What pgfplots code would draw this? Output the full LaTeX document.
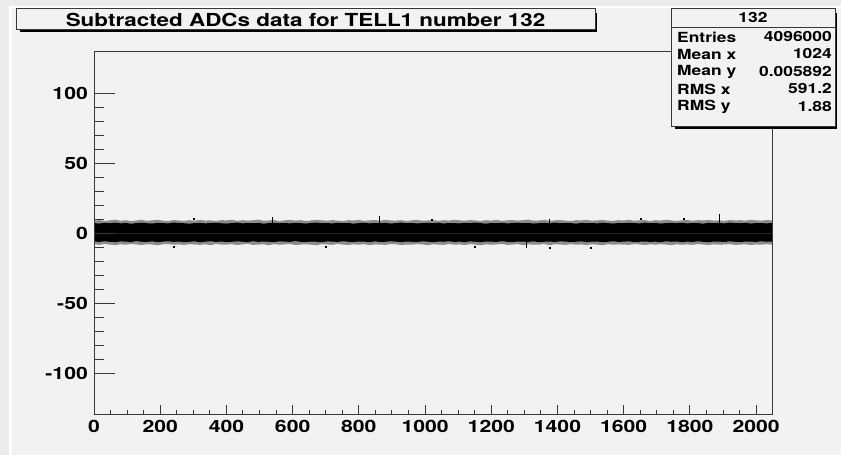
\documentclass[border=0pt]{standalone}
\usepackage{fontspec}
\setmainfont{TeX Gyre Heros}
\usepackage{graphicx}
\usepackage{pgfplots}
\pgfplotsset{compat=1.18}
\usepackage{pgfplotstable}
\definecolor{outerbg}{HTML}{EBEBEB}
\definecolor{canvas}{HTML}{F2F2F2}
\definecolor{frame}{HTML}{383838}
\newcommand{\sx}[1]{\scalebox{1.25}[1]{#1}}

\pgfplotstableread{
x ot ct cb ob
0 9.2 7.4 -5.7 -7.6
16 9.6 7.1 -6.0 -8.1
32 8.9 7.6 -5.5 -7.4
48 9.4 7.3 -5.9 -7.9
64 9.9 7.8 -6.2 -8.3
80 9.1 7.2 -5.6 -7.7
96 9.5 7.5 -5.8 -8.0
112 8.8 7.0 -6.1 -7.5
128 9.3 7.4 -5.4 -7.8
144 9.7 7.7 -5.9 -8.2
160 9.0 7.3 -6.0 -7.6
176 9.4 7.1 -5.6 -7.9
192 9.8 7.6 -6.2 -8.4
208 9.2 7.4 -5.8 -7.7
224 8.9 7.2 -5.5 -7.5
240 9.6 7.8 -6.0 -8.0
256 9.3 7.5 -5.7 -7.8
272 9.0 7.3 -6.1 -8.2
288 9.5 7.0 -5.9 -7.6
304 9.1 7.4 -5.6 -7.9
320 9.7 7.6 -6.2 -8.1
336 9.2 7.2 -5.8 -7.7
352 9.4 7.5 -5.5 -8.3
368 8.9 7.7 -6.0 -7.5
384 9.6 7.3 -5.7 -7.9
400 9.3 7.1 -6.1 -8.0
416 9.8 7.4 -5.9 -7.6
432 9.0 7.8 -5.6 -8.2
448 9.5 7.2 -5.8 -7.8
464 9.2 7.5 -6.2 -7.4
480 9.4 7.3 -5.5 -8.1
496 9.9 7.6 -6.0 -7.9
512 9.1 7.0 -5.7 -7.7
528 9.3 7.4 -5.9 -8.3
544 9.6 7.7 -6.1 -7.6
560 8.8 7.3 -5.6 -8.0
576 9.4 7.5 -5.8 -7.8
592 9.7 7.2 -6.0 -7.5
608 9.2 7.6 -5.4 -8.2
624 9.5 7.4 -5.9 -7.9
640 9.0 7.1 -6.1 -7.7
656 9.3 7.5 -5.7 -8.0
672 9.8 7.8 -5.9 -8.4
688 9.4 7.3 -6.2 -7.6
704 9.1 7.4 -5.6 -7.8
720 9.6 7.2 -5.8 -8.1
736 9.2 7.6 -6.0 -7.5
752 8.9 7.3 -5.5 -7.9
768 9.5 7.5 -5.9 -8.2
784 9.3 7.0 -6.1 -7.7
800 9.7 7.4 -5.7 -8.0
816 9.0 7.7 -5.8 -7.6
832 9.4 7.2 -6.2 -8.3
848 9.6 7.5 -5.6 -7.8
864 9.1 7.3 -6.0 -7.9
880 9.8 7.6 -5.9 -8.1
896 9.3 7.1 -5.5 -7.5
912 9.2 7.4 -5.8 -7.7
928 9.5 7.8 -6.1 -8.2
944 8.9 7.3 -5.7 -7.9
960 9.4 7.5 -5.9 -8.0
976 9.7 7.2 -6.0 -7.6
992 9.1 7.4 -5.6 -7.8
1008 9.3 7.6 -5.8 -8.3
1024 9.6 7.3 -6.2 -7.7
1040 9.0 7.7 -5.7 -7.9
1056 9.5 7.1 -5.9 -8.1
1072 9.2 7.5 -5.5 -7.5
1088 9.8 7.4 -6.0 -8.0
1104 9.4 7.2 -5.8 -7.8
1120 9.1 7.6 -6.1 -8.2
1136 9.6 7.3 -5.6 -7.6
1152 9.3 7.8 -5.9 -7.9
1168 8.9 7.4 -6.2 -8.4
1184 9.5 7.0 -5.7 -7.7
1200 9.2 7.5 -5.8 -8.0
1216 9.7 7.3 -6.0 -7.8
1232 9.0 7.6 -5.5 -7.5
1248 9.4 7.2 -5.9 -8.1
1264 9.6 7.4 -6.1 -7.9
1280 9.2 7.7 -5.7 -7.6
1296 9.5 7.3 -5.8 -8.2
1312 9.9 7.5 -6.0 -7.8
1328 9.1 7.1 -5.6 -7.9
1344 9.3 7.4 -6.2 -8.0
1360 9.7 7.6 -5.9 -7.5
1376 9.0 7.2 -5.7 -8.3
1392 9.4 7.8 -6.1 -7.7
1408 9.6 7.3 -5.5 -7.9
1424 9.2 7.5 -5.8 -8.1
1440 8.9 7.4 -6.0 -7.6
1456 9.5 7.0 -5.9 -8.0
1472 9.3 7.6 -5.6 -7.8
1488 9.8 7.3 -6.1 -8.2
1504 9.1 7.5 -5.8 -7.7
1520 9.4 7.2 -5.7 -7.9
1536 9.6 7.7 -6.2 -8.4
1552 9.2 7.4 -5.9 -7.6
1568 9.0 7.1 -5.5 -8.0
1584 9.5 7.5 -6.0 -7.8
1600 9.3 7.3 -5.8 -7.9
1616 9.7 7.6 -5.6 -8.1
1632 9.1 7.4 -6.1 -7.5
1648 9.4 7.2 -5.9 -7.8
1664 9.6 7.8 -5.7 -8.2
1680 8.8 7.3 -6.0 -7.7
1696 9.5 7.5 -5.8 -8.0
1712 9.2 7.1 -6.2 -7.6
1728 9.8 7.4 -5.5 -7.9
1744 9.3 7.6 -5.9 -8.3
1760 9.0 7.3 -5.7 -7.7
1776 9.4 7.7 -6.1 -8.0
1792 9.6 7.2 -5.8 -7.8
1808 9.1 7.5 -6.0 -8.1
1824 9.5 7.4 -5.6 -7.5
1840 9.3 7.0 -5.9 -7.9
1856 9.7 7.6 -6.2 -8.2
1872 9.2 7.3 -5.7 -7.7
1888 9.4 7.5 -5.8 -8.0
1904 9.0 7.2 -6.0 -7.8
1920 9.6 7.8 -5.6 -7.6
1936 9.3 7.4 -5.9 -8.1
1952 9.5 7.3 -6.1 -7.9
1968 9.1 7.6 -5.7 -7.7
1984 9.8 7.1 -5.8 -8.2
2000 9.4 7.5 -6.0 -7.8
2016 9.2 7.4 -5.5 -8.0
2032 9.6 7.2 -5.9 -7.6
2048 9.3 7.5 -5.8 -7.9
}\band

\begin{document}
\begin{tikzpicture}
\fill[outerbg] (0bp,0bp) rectangle (841bp,455bp);
\fill[white] (9bp,0bp) rectangle (841bp,449bp);
\fill[canvas] (12bp,0bp) rectangle (841bp,447bp);
\begin{axis}[
  at={(94bp,40bp)}, anchor=south west,
  scale only axis, width=678bp, height=363bp,
  xmin=0, xmax=2048, ymin=-129.5, ymax=129.5,
  xtick={0,200,...,2000}, minor x tick num=3,
  ytick={-100,-50,0,50,100}, minor y tick num=4,
  xtick pos=bottom, ytick pos=left,
  tick align=inside,
  major tick length=10bp, minor tick length=5bp,
  axis line style={frame, line width=1bp},
  tick style={frame, line width=1bp},
  axis on top,
  /pgf/number format/assume math mode=true,
  /pgf/number format/1000 sep={},
  tick label style={font=\bfseries\fontsize{17}{17}\selectfont, inner sep=0pt},
  xticklabel={\sx{\pgfmathprintnumber{\tick}}},
  yticklabel={\sx{\pgfmathprintnumber{\tick}}},
  yticklabel style={xshift=-6bp},
  xticklabel style={yshift=-5bp},
]
\addplot[fill=black!45, draw=none] table[x=x, y=ot] {\band} \closedcycle;
\addplot[fill=black!45, draw=none] table[x=x, y=ob] {\band} \closedcycle;
\addplot[fill=black, draw=none] table[x=x, y=ct] {\band} \closedcycle;
\addplot[fill=black, draw=none] table[x=x, y=cb] {\band} \closedcycle;
\addplot[black, line width=0.8bp] coordinates {(540,7) (540,12)};
\addplot[black, line width=0.8bp] coordinates {(863,7) (863,12.5)};
\addplot[black, line width=0.8bp] coordinates {(1376,7) (1376,10.5)};
\addplot[black, line width=0.8bp] coordinates {(1888,7) (1888,14)};
\addplot[black, line width=0.8bp] coordinates {(1306,-6) (1306,-10.5)};
\addplot[only marks, mark=square*, mark size=0.5bp, black] coordinates {
(300,10.5) (700,-9.5) (1020,10.2) (1500,-9.8) (1650,10.8) (1150,-9.6) (240,-9.2) (1780,10.4) (1376,-10.2)};
\end{axis}
% longer y ticks
\begin{axis}[
  at={(94bp,40bp)}, anchor=south west,
  scale only axis, width=678bp, height=363bp,
  xmin=0, xmax=2048, ymin=-129.5, ymax=129.5,
  axis x line=none, axis y line*=left,
  xtick=\empty, ytick={-100,-50,0,50,100}, minor y tick num=4,
  yticklabels={}, tick align=inside,
  major tick length=21bp, minor tick length=10bp,
  axis line style={frame, line width=1bp, -},
  tick style={frame, line width=1bp},
]
\end{axis}
% title box
\fill[black] (20bp,423bp) rectangle (597bp,425bp);
\fill[black] (595bp,423bp) rectangle (597bp,442bp);
\filldraw[fill=canvas, draw=frame, line width=1bp] (16bp,425bp) rectangle (595bp,446bp);
\node[font=\bfseries\fontsize{18}{18}\selectfont, inner sep=0pt] at (305.5bp,435.5bp) {\sx{Subtracted ADCs data for TELL1 number 132}};
% stats box
\fill[black] (675bp,326bp) rectangle (837bp,328bp);
\fill[black] (835bp,326bp) rectangle (837bp,442bp);
\filldraw[fill=canvas, draw=frame, line width=1bp] (671bp,328bp) rectangle (835bp,446bp);
\draw[frame, line width=1bp] (671bp,427bp) -- (835bp,427bp);
\begin{scope}[every node/.style={font=\bfseries\fontsize{14}{14}\selectfont, inner sep=0pt}]
\node at (753bp,437bp) {\sx{132}};
\node[anchor=west] at (677bp,418bp) {\sx{Entries}};
\node[anchor=east] at (832bp,418bp) {\sx{4096000}};
\node[anchor=west] at (677bp,401bp) {\sx{Mean x}};
\node[anchor=east] at (832bp,401bp) {\sx{1024}};
\node[anchor=west] at (677bp,383bp) {\sx{Mean y}};
\node[anchor=east] at (832bp,383bp) {\sx{0.005892}};
\node[anchor=west] at (677bp,366bp) {\sx{RMS x}};
\node[anchor=east] at (832bp,366bp) {\sx{591.2}};
\node[anchor=west] at (677bp,348bp) {\sx{RMS y}};
\node[anchor=east] at (832bp,348bp) {\sx{1.88}};
\end{scope}
\end{tikzpicture}
\end{document}
